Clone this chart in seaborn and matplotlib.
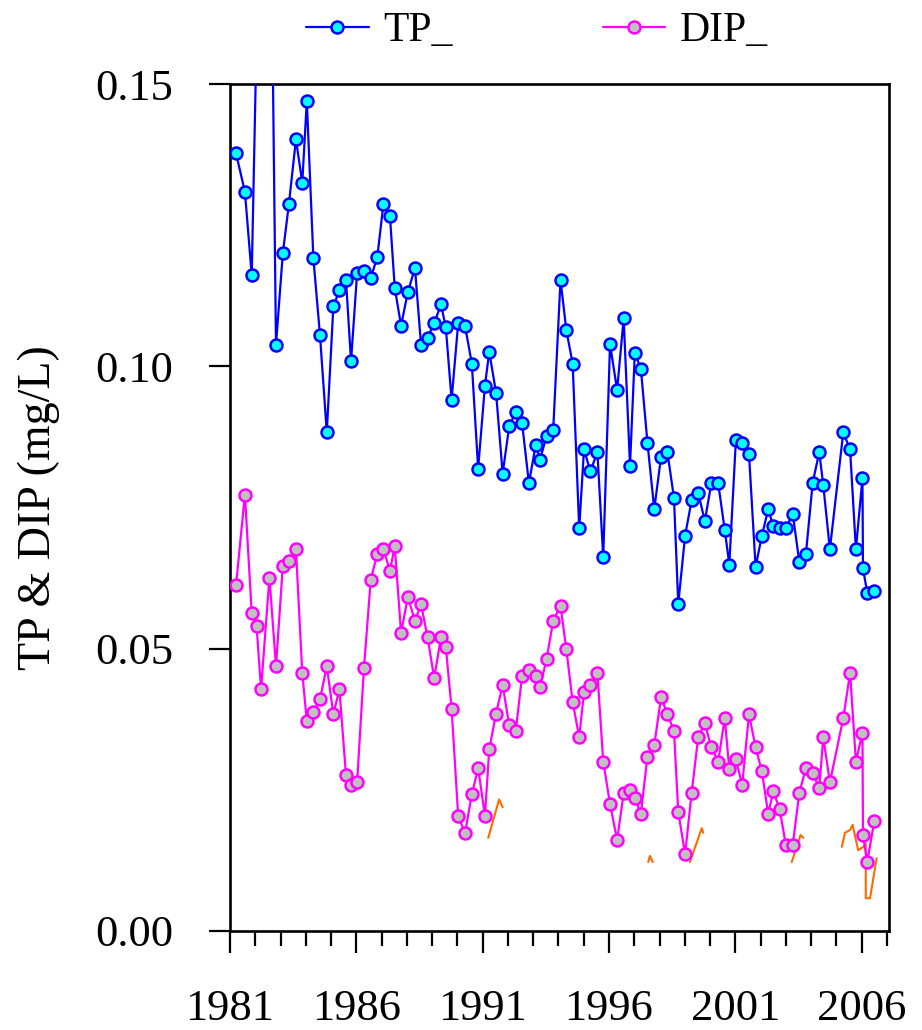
import numpy as np
import pandas as pd
import matplotlib
matplotlib.use("Agg")
import matplotlib.pyplot as plt
import seaborn as sns
from matplotlib.ticker import FixedLocator, FormatStrFormatter

# ---------------- data ----------------
years = [1981.24, 1981.59, 1981.86, 1982.05, 1982.23, 1982.56, 1982.82, 1983.09, 1983.33, 1983.61,
         1983.86, 1984.04, 1984.30, 1984.56, 1984.83, 1985.09, 1985.33, 1985.59, 1985.79, 1986.03,
         1986.30, 1986.57, 1986.83, 1987.07, 1987.33, 1987.52, 1987.77, 1988.04, 1988.32, 1988.56,
         1988.82, 1989.08, 1989.35, 1989.54, 1989.77, 1990.03, 1990.30, 1990.57, 1990.82, 1991.09,
         1991.26, 1991.53, 1991.79, 1992.05, 1992.31, 1992.56, 1992.83, 1993.10, 1993.27, 1993.53,
         1993.79, 1994.08, 1994.31, 1994.56, 1994.82, 1995.01, 1995.26, 1995.54, 1995.77, 1996.04,
         1996.32, 1996.58, 1996.83, 1997.02, 1997.26, 1997.52, 1997.79, 1998.06, 1998.31, 1998.57,
         1998.74, 1999.01, 1999.27, 1999.53, 1999.79, 2000.05, 2000.32, 2000.58, 2000.76, 2001.02,
         2001.27, 2001.54, 2001.80, 2002.05, 2002.30, 2002.50, 2002.75, 2003.00, 2003.27, 2003.53,
         2003.79, 2004.06, 2004.32, 2004.48, 2004.74, 2005.27, 2005.54, 2005.77, 2006.03, 2006.05,
         2006.22, 2006.50]

tp = [0.1377, 0.1309, 0.1161, 0.158, 0.190, 0.206, 0.1038, 0.1200, 0.1287, 0.1402,
      0.1325, 0.1470, 0.1191, 0.1056, 0.0883, 0.1106, 0.1135, 0.1153, 0.1009, 0.1165,
      0.1169, 0.1156, 0.1194, 0.1287, 0.1266, 0.1139, 0.1072, 0.1132, 0.1174, 0.1038,
      0.1051, 0.1076, 0.1110, 0.1069, 0.0941, 0.1076, 0.1072, 0.1005, 0.0819, 0.0966,
      0.1026, 0.0953, 0.0810, 0.0894, 0.0920, 0.0899, 0.0793, 0.0861, 0.0835, 0.0877,
      0.0887, 0.1153, 0.1064, 0.1005, 0.0713, 0.0853, 0.0814, 0.0848, 0.0662, 0.1039,
      0.0958, 0.1085, 0.0824, 0.1023, 0.0996, 0.0865, 0.0747, 0.0840, 0.0848, 0.0767,
      0.0579, 0.0700, 0.0763, 0.0776, 0.0726, 0.0793, 0.0793, 0.0710, 0.0649, 0.0869,
      0.0865, 0.0844, 0.0645, 0.0700, 0.0747, 0.0717, 0.0713, 0.0713, 0.0739, 0.0654,
      0.0667, 0.0794, 0.0848, 0.0789, 0.0676, 0.0883, 0.0853, 0.0676, 0.0802, 0.0642,
      0.0599, 0.0603]

dip = [0.0613, 0.0773, 0.0563, 0.0541, 0.0428, 0.0626, 0.0469, 0.0646, 0.0655, 0.0676,
       0.0457, 0.0372, 0.0388, 0.0410, 0.0469, 0.0384, 0.0428, 0.0276, 0.0259, 0.0263,
       0.0465, 0.0622, 0.0668, 0.0676, 0.0638, 0.0681, 0.0528, 0.0592, 0.0549, 0.0579,
       0.0520, 0.0448, 0.0520, 0.0503, 0.0394, 0.0204, 0.0173, 0.0242, 0.0288, 0.0204,
       0.0322, 0.0385, 0.0436, 0.0364, 0.0355, 0.0452, 0.0462, 0.0452, 0.0432, 0.0482,
       0.0549, 0.0576, 0.0499, 0.0406, 0.0343, 0.0423, 0.0436, 0.0457, 0.0300, 0.0225,
       0.0161, 0.0245, 0.0250, 0.0236, 0.0207, 0.0309, 0.0329, 0.0414, 0.0384, 0.0355,
       0.0211, 0.0136, 0.0245, 0.0343, 0.0368, 0.0325, 0.0300, 0.0377, 0.0287, 0.0304,
       0.0259, 0.0384, 0.0325, 0.0283, 0.0207, 0.0248, 0.0216, 0.0152, 0.0152, 0.0245,
       0.0288, 0.0279, 0.0254, 0.0343, 0.0263, 0.0377, 0.0457, 0.0300, 0.0351, 0.0170,
       0.0123, 0.0195]

# third (orange) series: only the visible fragments
orange_seg = [1, 1, 1, 2, 2, 2, 3, 3, 3, 4, 4, 4, 5, 5, 5, 5, 5, 5, 5, 5, 5, 5]
orange_years = [1991.22, 1991.65, 1991.79,
                1997.55, 1997.62, 1997.73,
                1999.20, 1999.67, 1999.73,
                2003.23, 2003.58, 2003.69,
                2005.21, 2005.34, 2005.54, 2005.64, 2005.86, 2006.06, 2006.16, 2006.161,
                2006.33, 2006.59]
orange_vals = [0.0165, 0.0233, 0.0219,
               0.0122, 0.0133, 0.0122,
               0.0122, 0.0182, 0.0174,
               0.0122, 0.0170, 0.0165,
               0.0149, 0.0174, 0.0179, 0.0188, 0.0143, 0.0149, 0.0155, 0.0058,
               0.0058, 0.0129]

major_years = [1981, 1986, 1991, 1996, 2001, 2006]
minor_years = list(range(1982, 2008))
y_ticks = [0.00, 0.05, 0.10, 0.15]

series_labels = ["TP_", "DIP_"]
y_label = "TP & DIP (mg/L)"

# ---------------- figure ----------------
sns.set_theme(style="ticks")
plt.rcParams["font.family"] = ["Liberation Serif", "DejaVu Serif"]
for k in ["text.color", "axes.labelcolor", "xtick.color", "ytick.color", "axes.edgecolor"]:
    plt.rcParams[k] = "black"

W, H = 922, 1030
fig = plt.figure(figsize=(W / 100, H / 100), dpi=100)
ax = fig.add_axes([230 / W, 1 - 931 / H, 659 / W, 847 / H])
ax.set_facecolor("white")

df_o = pd.DataFrame({"year": orange_years, "val": orange_vals, "seg": orange_seg})
sns.lineplot(data=df_o, x="year", y="val", units="seg", estimator=None, sort=False,
             color="#FF6A00", lw=1.5, ax=ax, legend=False, zorder=2)

sns.lineplot(x=years, y=tp, ax=ax, color="#0000FF", lw=1.6, marker="o", markersize=8.6,
             markerfacecolor="#00FFFF", markeredgecolor="#0000FF", markeredgewidth=1.8,
             estimator=None, sort=False, label=series_labels[0], zorder=3)
sns.lineplot(x=years, y=dip, ax=ax, color="#FF00FF", lw=1.6, marker="o", markersize=8.6,
             markerfacecolor="#C0C0C0", markeredgecolor="#FF00FF", markeredgewidth=1.8,
             estimator=None, sort=False, label=series_labels[1], zorder=4)

ax.set_xlim(1981, 2007.08)
ax.set_ylim(0, 0.15)
ax.xaxis.set_major_locator(FixedLocator(major_years))
ax.xaxis.set_minor_locator(FixedLocator(minor_years))
ax.xaxis.set_major_formatter(FormatStrFormatter("%d"))
ax.yaxis.set_major_locator(FixedLocator(y_ticks))
ax.yaxis.set_major_formatter(FormatStrFormatter("%.2f"))
ax.yaxis.set_minor_locator(plt.NullLocator())

ax.set_xlabel("")
ax.set_ylabel(y_label, fontsize=33, color="black")
ax.yaxis.set_label_coords(-0.258, 0.5)

ax.tick_params(axis="x", which="major", direction="out", length=16, width=1.6,
               labelsize=32, pad=26, color="black", labelcolor="black")
ax.tick_params(axis="x", which="minor", direction="out", length=11, width=1.6, color="black")
ax.tick_params(axis="y", which="major", direction="out", length=15, width=1.6,
               labelsize=32, pad=26, color="black", labelcolor="black")
for s in ax.spines.values():
    s.set_visible(True)
    s.set_linewidth(1.9)
    s.set_color("black")

leg = ax.legend(loc="center", bbox_to_anchor=(537 / W, 1 - 31 / H),
                bbox_transform=fig.transFigure, ncol=2, frameon=False, fontsize=30,
                handlelength=1.5, handletextpad=0.35, columnspacing=3.6)
for t in leg.get_texts():
    t.set_color("black")

fig.savefig("out.png", dpi=100, facecolor="white")
